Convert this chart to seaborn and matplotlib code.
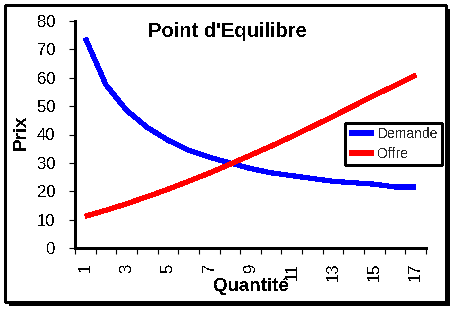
import matplotlib
matplotlib.use("Agg")
import matplotlib.pyplot as plt
import matplotlib.patches as mpatches
from matplotlib.ticker import FixedLocator
import seaborn as sns
import pandas as pd

# ---- data ----
quantite = list(range(1, 18))
demande = [74, 57.5, 48.5, 42.5, 38, 34.5, 32, 30, 28, 26.5, 25.5, 24.5, 23.5, 23, 22.5, 21.5, 21.5]
offre = [11.2, 13.3, 15.6, 18.1, 20.7, 23.5, 26.4, 29.5, 32.7, 35.9, 39.3, 42.8, 46.4, 50.1, 53.8, 57.3, 60.9]
series_names = ["Demande", "Offre"]
series_colors = ["#0000ff", "#ff0000"]
x_tick_labels = [str(q) for q in quantite if q % 2 == 1]
y_ticks = [0, 10, 20, 30, 40, 50, 60, 70, 80]
title = "Point d'Equilibre"
x_label = "Quantité"
y_label = "Prix"

df = pd.DataFrame({
    "Quantité": quantite * 2,
    "Prix": demande + offre,
    "Série": [series_names[0]] * len(quantite) + [series_names[1]] * len(quantite),
})

sns.set_style("white")
plt.rcParams["font.family"] = ["Liberation Sans", "DejaVu Sans"]
plt.rcParams["text.antialiased"] = False
plt.rcParams["lines.antialiased"] = False
plt.rcParams["patch.antialiased"] = False

W, H = 455, 311
fig = plt.figure(figsize=(W / 100, H / 100), dpi=100)
fig.patch.set_facecolor("white")

# chart-area frame with shadow (pixel coords, origin bottom-left)
shadow = mpatches.Rectangle((9, H - 306), 441, 297, transform=None,
                            facecolor="black", edgecolor="none", zorder=-3)
frame = mpatches.Rectangle((5, H - 302), 441, 297, transform=None,
                           facecolor="white", edgecolor="black", linewidth=0.8, zorder=-2)
fig.patches.extend([shadow, frame])

ax = fig.add_axes([75 / W, 1 - 248 / H, 351 / W, 227 / H])
ax.set_facecolor("none")

sns.lineplot(data=df, x="Quantité", y="Prix", hue="Série",
             palette=dict(zip(series_names, series_colors)),
             linewidth=3, ax=ax, legend=True)
for ln in ax.lines:
    ln.set_solid_capstyle("butt")

handles, labels = ax.get_legend_handles_labels()
ax.get_legend().remove()
leg = ax.legend(handles, labels, loc="upper left",
                bbox_to_anchor=(345 / W, 1 - 122.5 / H), bbox_transform=fig.transFigure,
                frameon=True, fancybox=False, shadow=False, framealpha=1,
                edgecolor="black", fontsize=10, handlelength=1.8, handletextpad=0.25,
                borderpad=0.3, labelspacing=0.45, borderaxespad=0)
leg.get_frame().set_linewidth(0.8)
for h in leg.get_lines():
    h.set_linewidth(3)
    h.set_solid_capstyle("butt")

ax.set_xlim(0.5, 17.5)
ax.set_ylim(0, 80)
ax.set_xticks([q for q in quantite if q % 2 == 1])
ax.set_xticklabels(x_tick_labels, rotation=90)
ax.xaxis.set_minor_locator(FixedLocator([q + 0.5 for q in range(0, 18)]))
ax.tick_params(axis="x", which="major", length=0, pad=10.5, labelsize=12, colors="black")
ax.tick_params(axis="x", which="minor", length=4.5, width=0.8, direction="out", color="black")
ax.set_yticks(y_ticks)
ax.tick_params(axis="y", which="major", length=4.5, width=0.8, direction="out",
               pad=9.5, labelsize=12, colors="black")
ax.tick_params(axis="both", bottom=True, left=True)
ax.tick_params(axis="x", which="minor", bottom=True)

for s in ["top", "right"]:
    ax.spines[s].set_visible(False)
for s in ["left", "bottom"]:
    ax.spines[s].set_color("black")
    ax.spines[s].set_linewidth(0.8)

ax.set_xlabel("")
ax.set_ylabel("")

fig.text(227 / W, 1 - 36.7 / H, title, ha="center", va="baseline",
         fontsize=14.5, fontweight="bold", color="black")
fig.text(251 / W, 1 - 291 / H, x_label, ha="center", va="baseline",
         fontsize=13.5, fontweight="bold", color="black")
fig.text(21.5 / W, 1 - 132.5 / H, y_label, ha="center", va="center", rotation=90,
         fontsize=13.5, fontweight="bold", color="black")

fig.savefig("out.png", dpi=100)
